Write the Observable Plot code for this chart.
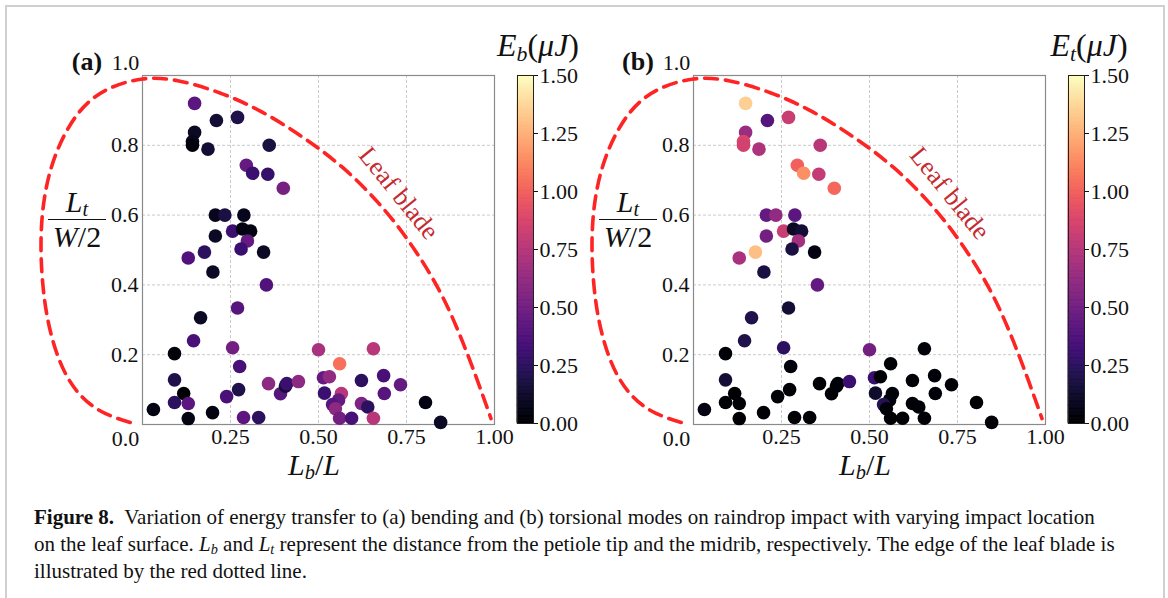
<!DOCTYPE html>
<html><head><meta charset="utf-8">
<script src="https://cdn.jsdelivr.net/npm/d3@7"></script>
<script src="https://cdn.jsdelivr.net/npm/@observablehq/plot@0.6"></script>
<style>
html,body{margin:0;padding:0;background:#fff;}
body{width:1168px;height:598px;overflow:hidden;position:relative;font-family:"Liberation Serif","DejaVu Serif",serif;color:#111;}
#border{position:absolute;left:5px;top:5px;width:1156px;height:640px;border:2px solid #d0d0d0;border-bottom:none;}
.abs{position:absolute;line-height:1;white-space:nowrap;}
.c{transform:translate(-50%,-50%);}
.math{font-style:italic;}
.math .up{font-style:normal;}
sub{font-size:0.68em;vertical-align:-0.22em;line-height:0;}
.plab{font-weight:bold;font-size:26px;}
#caption{position:absolute;left:34px;top:504px;font-size:21px;line-height:27px;white-space:nowrap;letter-spacing:0px;}
.frac{position:absolute;width:58px;text-align:center;font-size:30px;font-style:italic;line-height:1;}
.frac .num{border-bottom:1.6px solid #111;padding-bottom:2px;}
.frac .den{padding-top:2px;}
</style></head>
<body>
<div id="border"></div>
<div id="root"></div>
<div id="caption"><b>Figure 8.</b>&nbsp; Variation of energy transfer to (a) bending and (b) torsional modes on raindrop impact with varying impact location<br>on the leaf surface. <i>L<sub>b</sub></i> and <i>L<sub>t</sub></i> represent the distance from the petiole tip and the midrib, respectively. The edge of the leaf blade is<br>illustrated by the red dotted line.</div>
<script>
// ---- data ----
const lb = [0.148,0.21,0.27,0.148,0.142,0.142,0.186,0.36,0.295,0.313,0.356,0.40,0.207,0.234,0.288,0.207,0.256,0.284,0.307,0.298,0.28,0.344,0.176,0.13,0.20,0.352,0.27,0.165,0.145,0.256,0.091,0.276,0.091,0.117,0.091,0.13,0.031,0.13,0.199,0.239,0.273,0.287,0.33,0.358,0.392,0.406,0.41,0.443,0.50,0.514,0.531,0.517,0.56,0.565,0.557,0.54,0.548,0.56,0.594,0.622,0.622,0.64,0.656,0.656,0.685,0.687,0.733,0.804,0.847];
const lt = [0.92,0.871,0.88,0.837,0.811,0.80,0.789,0.80,0.743,0.72,0.717,0.677,0.60,0.60,0.60,0.54,0.554,0.56,0.554,0.526,0.503,0.494,0.494,0.477,0.437,0.40,0.334,0.306,0.24,0.22,0.203,0.166,0.128,0.089,0.063,0.06,0.043,0.017,0.034,0.08,0.10,0.02,0.02,0.117,0.088,0.11,0.117,0.123,0.214,0.134,0.137,0.09,0.174,0.089,0.07,0.057,0.045,0.018,0.018,0.126,0.06,0.05,0.217,0.018,0.14,0.089,0.114,0.063,0.006];
const eb = [0.42,0.15,0.2,0.1,0.08,0.03,0.15,0.18,0.45,0.3,0.28,0.52,0.08,0.18,0.08,0.1,0.3,0.05,0.05,0.45,0.3,0.1,0.25,0.38,0.1,0.38,0.4,0.1,0.35,0.5,0.03,0.35,0.2,0.0,0.25,0.42,0.05,0.05,0.05,0.35,0.2,0.42,0.25,0.6,0.4,0.15,0.3,0.6,0.7,0.45,0.62,0.3,1.05,0.75,0.45,0.4,0.6,0.5,0.35,0.25,0.55,0.25,0.75,0.75,0.35,0.4,0.45,0.05,0.1];
const et = [1.35,0.40,0.82,0.65,0.88,0.85,0.72,0.75,1.0,1.15,0.8,1.02,0.45,0.62,0.42,0.5,0.82,0.1,0.15,0.68,0.18,0.05,1.3,0.7,0.18,0.45,0.15,0.2,0.2,0.25,0.02,0.03,0.15,0.01,0.02,0.02,0.05,0.01,0.01,0.02,0.01,0.01,0.01,0.01,0.01,0.02,0.02,0.3,0.5,0.3,0.02,0.12,0.02,0.02,0.03,0.22,0.02,0.01,0.01,0.01,0.02,0.02,0.03,0.01,0.02,0.02,0.02,0.01,0.02];
// leaf blade outline (Lb, Lt)
const leafLb = [-0.035,-0.13,-0.21,-0.26,-0.283,-0.288,-0.275,-0.24,-0.18,-0.10,0.0,0.10,0.22,0.34,0.46,0.57,0.67,0.76,0.84,0.90,0.95,0.99];
const leafLt = [0.006,0.045,0.13,0.26,0.40,0.54,0.67,0.79,0.895,0.96,0.99,0.985,0.95,0.895,0.82,0.735,0.635,0.52,0.39,0.26,0.13,0.017];
const bladeLabel = [{text:"Leaf blade", lb:0.728, lt:0.663}];
const xTicks = [0.25,0.5,0.75,1.0];
const yTicks = [0.2,0.4,0.6,0.8];
const gridXTicks = [0.25,0.5,0.75];
const bottomCorner = [{lb:0, lt:0, text:"0.0"}];
const topCorner = [{lb:0, lt:1, text:"1.0"}];
const cbTicks = [0,0.25,0.5,0.75,1.0,1.25,1.5];
const cbDomain = [0,1.5];
const panels = [
  {label:"(a)", values:eb, sym:"b", offset:0},
  {label:"(b)", values:et, sym:"t", offset:551}
];

const root = document.getElementById("root");
const color = {type:"linear", scheme:"magma", domain:cbDomain};
const leaf = leafLb.map((x,i)=>({x, y:leafLt[i]}));

function place(el, left, top){
  el.style.position="absolute"; el.style.left=left+"px"; el.style.top=top+"px";
  root.appendChild(el);
}
function addHTML(html, cls, left, top){
  const d=document.createElement("div"); d.className="abs "+cls; d.innerHTML=html;
  d.style.left=left+"px"; d.style.top=top+"px"; root.appendChild(d); return d;
}
const fontStyle = {fontFamily:"Liberation Serif, serif", fontSize:"22px", color:"#111", background:"transparent", overflow:"visible"};

for (const p of panels){
  const data = lb.map((x,i)=>({lb:x, lt:lt[i], e:p.values[i]}));
  const chart = Plot.plot({
    width:500, height:480, marginLeft:142, marginRight:6, marginTop:75, marginBottom:56,
    style:fontStyle,
    x:{domain:[0,1]}, y:{domain:[0,1]}, color,
    marks:[
      Plot.gridX(gridXTicks, {stroke:"#c4c4c4", strokeOpacity:1, strokeDasharray:"3,2", strokeWidth:0.9}),
      Plot.gridY(yTicks, {stroke:"#c4c4c4", strokeOpacity:1, strokeDasharray:"3,2", strokeWidth:0.9}),
      Plot.frame({stroke:"#8a8a8a", strokeWidth:1.2}),
      Plot.axisX(xTicks, {tickSize:0, tickPadding:4, tickFormat:d=>d.toFixed(2), label:null}),
      Plot.axisY(yTicks, {tickSize:0, tickPadding:4, tickFormat:d=>d.toFixed(1), label:null}),
      Plot.text(bottomCorner, {x:"lb", y:"lt", text:"text", dx:-17, dy:14, fontSize:22, fill:"#111"}),
      Plot.text(topCorner, {x:"lb", y:"lt", text:"text", dx:-17, dy:-13, fontSize:22, fill:"#111"}),
      Plot.line(leaf, {x:"x", y:"y", curve:"natural", stroke:"#ff2424", strokeWidth:3.6, strokeDasharray:"13,8"}),
      Plot.dot(data, {x:"lb", y:"lt", fill:"e", r:6.8}),
      Plot.text(bladeLabel, {x:"lb", y:"lt", text:"text", rotate:51, fill:"#c42a30", fontSize:26})
    ]
  });
  place(chart, p.offset, 0);

  const bar = Plot.plot({
    width:90, height:480, marginLeft:0, marginRight:74, marginTop:75, marginBottom:57,
    style:fontStyle,
    x:{domain:[0,1], axis:null}, y:{domain:cbDomain, axis:null}, color,
    marks:[
      Plot.rect(d3.range(0,1.5,0.005), {x1:0, x2:1, y1:d=>d, y2:d=>d+0.005, fill:d=>d+0.0025, stroke:d=>d+0.0025, strokeWidth:0.8}),
      Plot.frame({stroke:"#222", strokeWidth:1}),
      Plot.axisY(cbTicks, {anchor:"right", tickSize:4, tickPadding:2, tickFormat:d=>d.toFixed(2), label:null})
    ]
  });
  place(bar, p.offset+517, 0);

  addHTML(p.label, "plab c", p.offset+87, 62);
  addHTML(`<span class="math">E<sub>${p.sym}</sub><span class="up">(</span>μJ<span class="up">)</span></span>`, "c", p.offset+538, 45).style.fontSize="32px";
  addHTML(`<span class="math">L<sub>b</sub><span class="up">/</span>L</span>`, "c", p.offset+314, 465).style.fontSize="30px";
  const fr=document.createElement("div"); fr.className="frac";
  fr.innerHTML=`<div class="num">L<sub>t</sub></div><div class="den">W<span style="font-style:normal">/2</span></div>`;
  fr.style.left=(p.offset+48)+"px"; fr.style.top="187px"; root.appendChild(fr);
}
</script>
</body></html>
